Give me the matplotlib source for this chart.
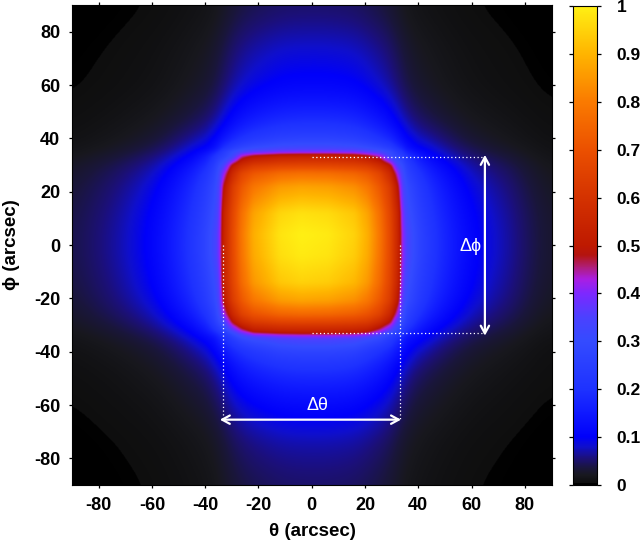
import numpy as np
import matplotlib
matplotlib.use('Agg')
import matplotlib.pyplot as plt
from matplotlib.colors import LinearSegmentedColormap

plt.rcParams['font.family'] = ['Liberation Sans', 'DejaVu Sans']
plt.rcParams['axes.unicode_minus'] = False

theta_nodes = [-90,-75,-60,-48,-40,-36.5,-35,-33.5,-30,-26.5,-22,-12,-4,6,16,21,25.5,29.5,32.5,34,35.5,40,48,60,75,90]
phi_nodes = [90,75,60,48,40,36.5,35,33.5,30,27,22,12,4,-4,-14,-21,-26,-29,-32,-33.5,-35,-40,-48,-60,-75,-90]
power_rows = [
 [.002,.0033,.0055,.0095,.0135,.0165,.02,.025,.0315,.037,.042,.0485,.05,.05,.0475,.0425,.037,.032,.026,.021,.0175,.0135,.0095,.0055,.0033,.0018],
 [.0032,.0052,.0088,.015,.022,.026,.032,.04,.05,.059,.067,.078,.08,.08,.076,.068,.059,.051,.042,.034,.028,.022,.015,.0088,.0052,.0028],
 [.0044,.0072,.012,.021,.03,.036,.044,.055,.069,.081,.092,.107,.11,.11,.105,.094,.081,.07,.057,.046,.039,.03,.021,.012,.0072,.0039],
 [.0072,.012,.02,.034,.049,.059,.072,.09,.113,.133,.151,.175,.18,.18,.171,.153,.133,.115,.094,.076,.063,.049,.034,.02,.012,.0063],
 [.011,.018,.031,.06,.08,.105,.12,.14,.175,.2,.225,.252,.26,.26,.247,.225,.2,.175,.14,.12,.105,.08,.06,.031,.018,.009],
 [.013,.022,.04,.07,.10,.135,.16,.19,.24,.275,.30,.325,.33,.33,.32,.30,.275,.24,.19,.17,.14,.10,.07,.04,.022,.011],
 [.016,.026,.047,.082,.125,.17,.20,.24,.30,.34,.37,.395,.40,.40,.39,.37,.34,.30,.24,.21,.17,.125,.082,.047,.026,.012],
 [.022,.036,.06,.10,.155,.205,.24,.25,.31,.44,.49,.53,.54,.54,.53,.49,.44,.31,.26,.25,.205,.155,.10,.06,.036,.015],
 [.025,.041,.069,.125,.185,.25,.29,.33,.49,.57,.625,.654,.66,.657,.644,.625,.57,.49,.33,.30,.25,.185,.125,.069,.041,.018],
 [.029,.047,.079,.14,.21,.27,.32,.40,.56,.66,.715,.764,.775,.77,.748,.715,.66,.56,.41,.33,.27,.21,.14,.079,.047,.02],
 [.033,.054,.091,.16,.235,.29,.34,.47,.626,.715,.789,.855,.87,.863,.833,.789,.715,.626,.48,.36,.30,.235,.16,.091,.054,.023],
 [.038,.062,.105,.18,.257,.313,.36,.525,.66,.775,.87,.956,.975,.965,.93,.87,.775,.66,.535,.40,.33,.257,.18,.105,.062,.027],
 [.04,.065,.11,.19,.27,.33,.38,.53,.67,.79,.89,.98,1,.99,.95,.89,.79,.67,.54,.42,.35,.27,.19,.11,.065,.028],
 [.04,.065,.11,.19,.27,.33,.38,.53,.667,.784,.882,.97,.99,.98,.94,.882,.784,.667,.54,.42,.35,.27,.19,.11,.065,.028],
 [.037,.06,.102,.177,.251,.307,.353,.525,.653,.761,.851,.932,.95,.941,.905,.851,.761,.653,.535,.39,.325,.251,.177,.102,.06,.026],
 [.033,.054,.091,.16,.235,.29,.34,.48,.626,.715,.789,.855,.87,.863,.833,.789,.715,.626,.49,.36,.30,.235,.16,.091,.054,.023],
 [.028,.046,.077,.135,.205,.265,.315,.40,.555,.65,.703,.75,.76,.755,.734,.703,.65,.555,.41,.325,.265,.205,.135,.077,.046,.02],
 [.025,.04,.068,.12,.18,.245,.285,.32,.48,.57,.625,.654,.66,.657,.644,.625,.57,.48,.33,.295,.245,.18,.12,.068,.04,.017],
 [.021,.034,.058,.10,.15,.20,.23,.26,.36,.45,.52,.547,.55,.548,.54,.52,.45,.36,.27,.24,.20,.15,.10,.058,.034,.015],
 [.018,.029,.05,.085,.13,.165,.19,.21,.28,.36,.43,.46,.47,.47,.46,.43,.36,.28,.22,.20,.165,.13,.085,.05,.029,.013],
 [.015,.025,.042,.072,.11,.14,.165,.19,.24,.29,.32,.35,.36,.36,.345,.32,.29,.24,.19,.17,.14,.11,.072,.042,.025,.011],
 [.011,.018,.031,.055,.08,.105,.12,.14,.175,.2,.225,.262,.27,.27,.257,.225,.2,.175,.14,.12,.105,.08,.055,.031,.018,.008],
 [.0076,.012,.021,.036,.051,.063,.076,.095,.12,.141,.16,.184,.19,.19,.181,.162,.141,.122,.099,.08,.067,.051,.036,.021,.012,.0067],
 [.0048,.0078,.013,.023,.032,.04,.048,.06,.076,.089,.10,.116,.12,.12,.114,.102,.089,.077,.062,.05,.042,.032,.023,.013,.0078,.0042],
 [.0028,.0046,.0077,.013,.019,.023,.028,.035,.044,.052,.059,.068,.07,.07,.0665,.06,.052,.045,.036,.029,.0245,.019,.013,.0077,.0046,.0025],
 [.002,.0033,.0055,.0095,.0135,.0165,.02,.025,.0315,.037,.042,.0485,.05,.05,.0475,.0425,.037,.032,.026,.021,.0175,.0135,.0095,.0055,.0033,.0018],
]
axis_ticks = [-80,-60,-40,-20,0,20,40,60,80]
cbar_ticks = [0,.1,.2,.3,.4,.5,.6,.7,.8,.9,1]
cbar_labels = ['0','0.1','0.2','0.3','0.4','0.5','0.6','0.7','0.8','0.9','1']

cmap_points = [
 (0.0,(0,0,0)),(0.0039,(0,0,0)),(0.004,(14,14,14)),(0.02,(24,24,30)),(0.035,(26,22,60)),
 (0.055,(28,16,120)),(0.08,(15,15,205)),(0.10,(0,0,250)),(0.15,(15,25,255)),(0.20,(30,50,255)),(0.30,(52,75,255)),
 (0.35,(75,65,255)),(0.40,(125,40,255)),(0.43,(170,30,225)),(0.455,(175,30,120)),(0.48,(180,20,15)),
 (0.50,(190,25,0)),(0.60,(212,50,0)),(0.70,(235,80,0)),(0.80,(250,122,0)),(0.90,(255,180,0)),(1.0,(255,240,20)),
]
cmap = LinearSegmentedColormap.from_list('beam', [(p, tuple(c/255 for c in rgb)) for p, rgb in cmap_points], N=1024)

# resample the read-off table (in log space) to a fine raster
logP = np.log(np.array(power_rows))
fine_t = np.linspace(-90, 90, 721)
fine_p = np.linspace(90, -90, 721)
A = np.array([np.interp(fine_t, theta_nodes, r) for r in logP])
B = np.array([np.interp(fine_p, phi_nodes[::-1], c[::-1]) for c in A.T]).T

def blur(M, n):
    k = np.bartlett(n); k = k/k.sum()
    pad = n//2
    def one(X):
        X = np.pad(X, ((0,0),(pad,pad)), mode='edge')
        return np.array([np.convolve(r, k, mode='valid') for r in X])
    return one(one(M).T).T

near = blur(B, 13)
far = blur(B, 61)
TT, PP = np.meshgrid(fine_t, fine_p)
d = np.maximum(np.abs(TT), np.abs(PP))
w = np.clip((d-37)/8, 0, 1)
Z = np.exp((1-w)*near + w*far)

fig = plt.figure(figsize=(6.4, 5.42), dpi=100)
W, H = 640, 542
ax = fig.add_axes([72/W, 1-485/H, 479.5/W, 480/H])
im = ax.imshow(Z, extent=[-90,90,-90,90], origin='upper', aspect='auto', cmap=cmap, vmin=0, vmax=1, interpolation='bilinear')
ax.set_xlim(-90,90); ax.set_ylim(-90,90)
ax.set_xticks(axis_ticks); ax.set_yticks(axis_ticks)
ax.tick_params(which='both', direction='out', length=2.5, width=0.9, top=True, right=True, pad=6)
for l in ax.get_xticklabels()+ax.get_yticklabels():
    l.set_fontsize(13); l.set_fontweight('bold')
for s in ax.spines.values():
    s.set_linewidth(0.8)
fig.text(312/W, 1-532/H, 'θ (arcsec)', ha='center', va='center', fontsize=13.5, fontweight='bold')
fig.text(12/W, 1-245/H, 'ϕ (arcsec)', ha='center', va='center', rotation=90, fontsize=13.5, fontweight='bold')

dot = dict(color='white', lw=0.9, ls=(0,(1,2)))
ax.plot([-33.5,-33.5],[0,-66], **dot)
ax.plot([33,33],[0,-66], **dot)
ax.plot([0,65],[33,33], **dot)
ax.plot([0,65],[-33,-33], **dot)
arrow = dict(arrowstyle='<->,head_length=0.55,head_width=0.3', color='white', lw=1.6, shrinkA=0, shrinkB=0)
ax.annotate('', xy=(-34.5,-65.5), xytext=(33.5,-65.5), arrowprops=arrow)
ax.annotate('', xy=(65,33.8), xytext=(65,-34), arrowprops=arrow)
ax.text(2,-60,'Δθ',color='white',fontsize=13,ha='center',va='center')
ax.text(59.5,-0.5,'Δϕ',color='white',fontsize=13,ha='center',va='center')

cax = fig.add_axes([573/W, 1-485/H, 24/W, 479/H])
cb = fig.colorbar(im, cax=cax)
cb.set_ticks(cbar_ticks)
cb.set_ticklabels(cbar_labels)
cax.tick_params(direction='out', length=3, width=0.9, left=True, right=True, labelleft=False, labelright=True, pad=11)
for l in cax.get_yticklabels():
    l.set_fontsize(12.5); l.set_fontweight('bold')
cb.outline.set_linewidth(0.8)
fig.savefig('out.png', dpi=100)
